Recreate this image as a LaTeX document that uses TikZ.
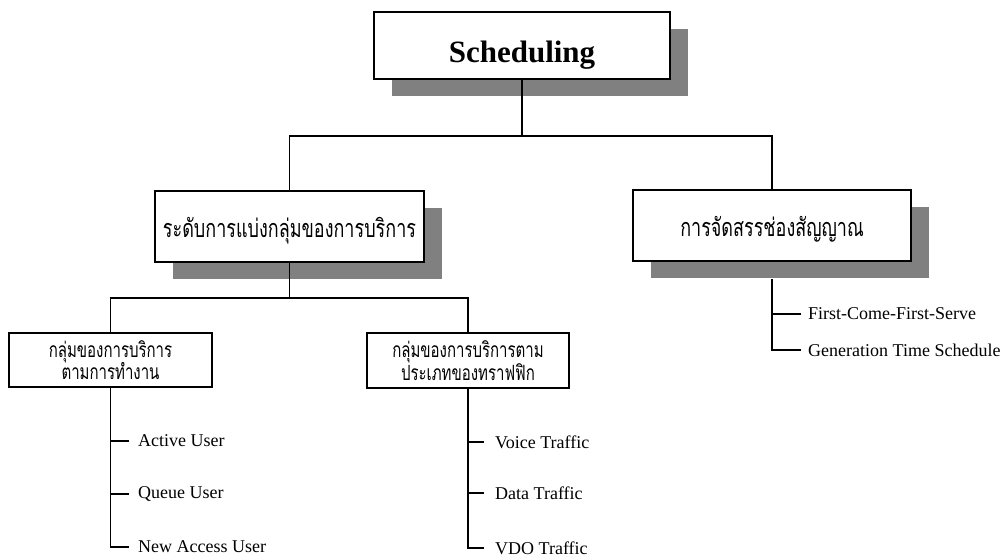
\documentclass[tikz,border=0pt]{standalone}
\usepackage{fontspec}
\usepackage{graphicx}
\setmainfont{Liberation Serif}
\newfontfamily\thaifont[Script=Thai]{Loma}
\usetikzlibrary{shadows}
\newcommand{\thaitxt}[3]{\raisebox{#2}[\height][\depth]{\scalebox{1}[1.4]{\thaifont\fontsize{#1}{#1}\selectfont #3}}}
\tikzset{
  shbox/.style={draw=black,line width=1.8pt,fill=white,inner sep=0pt,align=center,
    drop shadow={shadow xshift=17.5pt,shadow yshift=-17pt,fill=black!50,opacity=1}},
  plainbox/.style={draw=black,line width=1.6pt,fill=white,inner sep=0pt,align=center},
  conn/.style={line width=1.1pt,line cap=rect},
  leaf/.style={anchor=west,inner sep=0pt,font=\fontsize{18}{21}\selectfont},
}
\begin{document}
\begin{tikzpicture}[x=1pt,y=-1pt]
\useasboundingbox (0,0) rectangle (1004,558);
% level 1
\node[shbox,minimum width=296pt,minimum height=67pt] (s) at (522,45.5)
  {\raisebox{-10pt}[\height][\depth]{\fontsize{31}{36}\selectfont\bfseries Scheduling}};
% level 2
\node[shbox,minimum width=269pt,minimum height=71pt] (a) at (289.5,226.5)
  {\thaitxt{18}{-4pt}{ระดับการแบ่งกลุ่มของการบริการ}};
\node[shbox,minimum width=278pt,minimum height=71pt] (b) at (772,225.5)
  {\thaitxt{18}{-4pt}{การจัดสรรช่องสัญญาณ}};
% level 3
\node[plainbox,minimum width=203pt,minimum height=54pt] (c) at (110.5,360)
  {\thaitxt{15}{0pt}{กลุ่มของการบริการ}\\[-1pt]\thaitxt{15}{0pt}{ตามการทำงาน}};
\node[plainbox,minimum width=202pt,minimum height=55pt] (d) at (468,360.5)
  {\thaitxt{15}{0pt}{กลุ่มของการบริการตาม}\\[-1pt]\thaitxt{15}{0pt}{ประเภทของทราฟฟิก}};
% bus coordinates
\coordinate (bus1) at (522,136);
\coordinate (bus2) at (289.5,298);
% connectors level 1 -> 2
\draw[conn] (s.south) -- (bus1);
\draw[conn] (a.north) |- (bus1) -| (b.north);
% connectors level 2 -> 3
\draw[conn] (a.south) -- (bus2);
\draw[conn] (c.north) |- (bus2) -| (d.north);
% leaves of c
\node[leaf] (c1) at (138,441) {Active User};
\node[leaf] (c2) at (138,494) {Queue User};
\node[leaf] (c3) at (138,547) {New Access User};
\draw[conn] (c.south) |- ([xshift=-10pt]c3.west);
\draw[conn] (c.south |- c1.west) -- ([xshift=-10pt]c1.west);
\draw[conn] (c.south |- c2.west) -- ([xshift=-10pt]c2.west);
% leaves of d
\node[leaf] (d1) at (495,442) {Voice Traffic};
\node[leaf] (d2) at (495,493) {Data Traffic};
\node[leaf] (d3) at (495,548) {VDO Traffic};
\draw[conn] (d.south) |- ([xshift=-12pt]d3.west);
\draw[conn] (d.south |- d1.west) -- ([xshift=-12pt]d1.west);
\draw[conn] (d.south |- d2.west) -- ([xshift=-12pt]d2.west);
% leaves of b
\node[leaf] (b1) at (808,314) {First-Come-First-Serve};
\node[leaf] (b2) at (808,350) {Generation Time Schedule};
\draw[conn] ([yshift=-18pt]b.south) |- ([xshift=-8pt]b2.west);
\draw[conn] (b.south |- b1.west) -- ([xshift=-8pt]b1.west);
\end{tikzpicture}
\end{document}
